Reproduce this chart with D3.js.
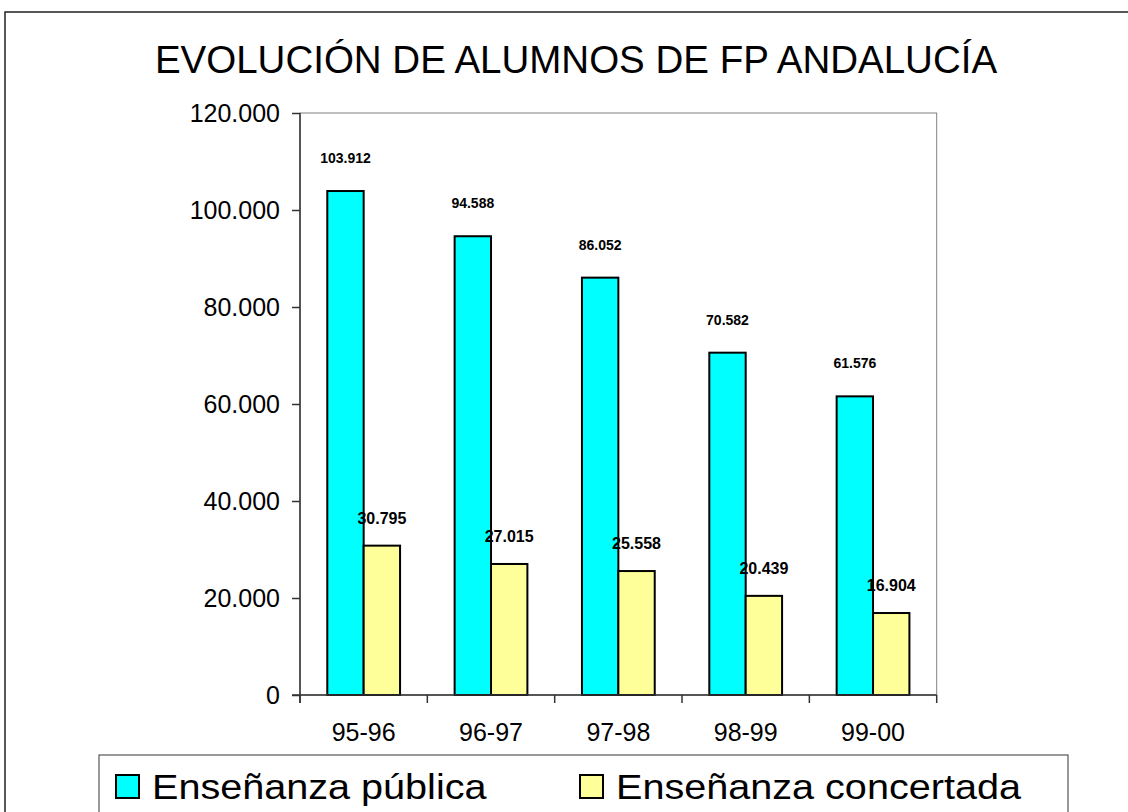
<!DOCTYPE html>
<html><head><meta charset="utf-8">
<script src="https://cdn.jsdelivr.net/npm/d3@7"></script>
<style>
html,body{margin:0;padding:0;background:#fff;}
svg{display:block;font-family:"Liberation Sans",Arial,sans-serif;}
</style></head>
<body><svg id="c" width="1128" height="812"></svg>
<script>
const title = "EVOLUCIÓN DE ALUMNOS DE FP ANDALUCÍA";
const categories = ["95-96","96-97","97-98","98-99","99-00"];
const publica = [103912, 94588, 86052, 70582, 61576];
const concertada = [30795, 27015, 25558, 20439, 16904];
const seriesNames = ["Enseñanza pública","Enseñanza concertada"];
const yTicks = [0, 20000, 40000, 60000, 80000, 100000, 120000];

const loc = d3.formatLocale({decimal:",", thousands:".", grouping:[3], currency:["","€"]});
const fmt = loc.format(",d");

const svg = d3.select("#c");
svg.append("rect").attr("width",1128).attr("height",812).attr("fill","#fff");
// outer chart border
svg.append("rect").attr("x",5).attr("y",12).attr("width",1200).attr("height",900)
  .attr("fill","none").attr("stroke","#222").attr("stroke-width",1.5);

const L=300, R=936.7, T=113, B=695;
const x = d3.scaleBand().domain(categories).range([L,R]).padding(0);
const y = d3.scaleLinear().domain([0,120000]).range([B,T]);
const bw = x.bandwidth()/3.5;

// plot frame
svg.append("rect").attr("x",L).attr("y",T).attr("width",R-L).attr("height",B-T)
  .attr("fill","none").attr("stroke","#808080").attr("stroke-width",1);

// title
svg.append("text").attr("x",576).attr("y",73).attr("text-anchor","middle")
  .attr("font-size",38.5).text(title);

// bars
const colors = ["#00FFFF","#FFFF99"];
const series = [publica, concertada];
series.forEach((vals,si)=>{
  svg.append("g").selectAll("rect").data(vals).join("rect")
    .attr("x",(d,i)=>x(categories[i]) + (x.bandwidth()-2*bw)/2 + si*bw)
    .attr("y",d=>y(d)).attr("width",bw).attr("height",d=>B-y(d))
    .attr("fill",colors[si]).attr("stroke","#000").attr("stroke-width",2);
});

// axes
const yAxis = d3.axisLeft(y).tickValues(yTicks).tickFormat(fmt).tickSize(8).tickPadding(12);
const gy = svg.append("g").attr("transform",`translate(${L},0)`).call(yAxis);
gy.select(".domain").remove();
gy.selectAll(".tick line").attr("stroke","#333").attr("stroke-width",1.5);
gy.selectAll(".tick text").attr("font-size",25).attr("fill","#000")
  .attr("font-family","Liberation Sans, Arial, sans-serif");

svg.append("line").attr("x1",L).attr("x2",L).attr("y1",T).attr("y2",B+8)
  .attr("stroke","#333").attr("stroke-width",1.5);
svg.append("line").attr("x1",L-8).attr("x2",R).attr("y1",B).attr("y2",B)
  .attr("stroke","#333").attr("stroke-width",1.5);
const bounds = categories.map(c=>x(c)).concat([R]);
svg.append("g").selectAll("line").data(bounds).join("line")
  .attr("x1",d=>d).attr("x2",d=>d).attr("y1",B).attr("y2",B+8)
  .attr("stroke","#333").attr("stroke-width",1.5);
const xAxis = d3.axisBottom(x).tickSize(0).tickPadding(0);
const gx = svg.append("g").attr("transform",`translate(0,${B})`).call(xAxis);
gx.select(".domain").remove();
gx.selectAll(".tick text").attr("font-size",25).attr("fill","#000").attr("dy",null).attr("y",46)
  .attr("font-family","Liberation Sans, Arial, sans-serif");

// value labels
const lblSize=[14,16], lblOff=[28,22];
series.forEach((vals,si)=>{
  svg.append("g").selectAll("text").data(vals).join("text")
    .attr("x",(d,i)=>x(categories[i]) + (x.bandwidth()-2*bw)/2 + si*bw + bw/2)
    .attr("y",d=>y(d)-lblOff[si]).attr("text-anchor","middle")
    .attr("font-size",lblSize[si]).attr("font-weight","bold").text(d=>fmt(d));
});

// legend
svg.append("rect").attr("x",99).attr("y",755).attr("width",969).attr("height",120)
  .attr("fill","#fff").attr("stroke","#555").attr("stroke-width",1.2);
const legX = [116, 580];
seriesNames.forEach((n,i)=>{
  svg.append("rect").attr("x",legX[i]).attr("y",775).attr("width",23).attr("height",23)
    .attr("fill",colors[i]).attr("stroke","#000").attr("stroke-width",2);
  svg.append("text").attr("transform",`translate(${legX[i]+36},799) scale(1.1,1)`)
    .attr("font-size",36).text(n);
});
</script></body></html>
